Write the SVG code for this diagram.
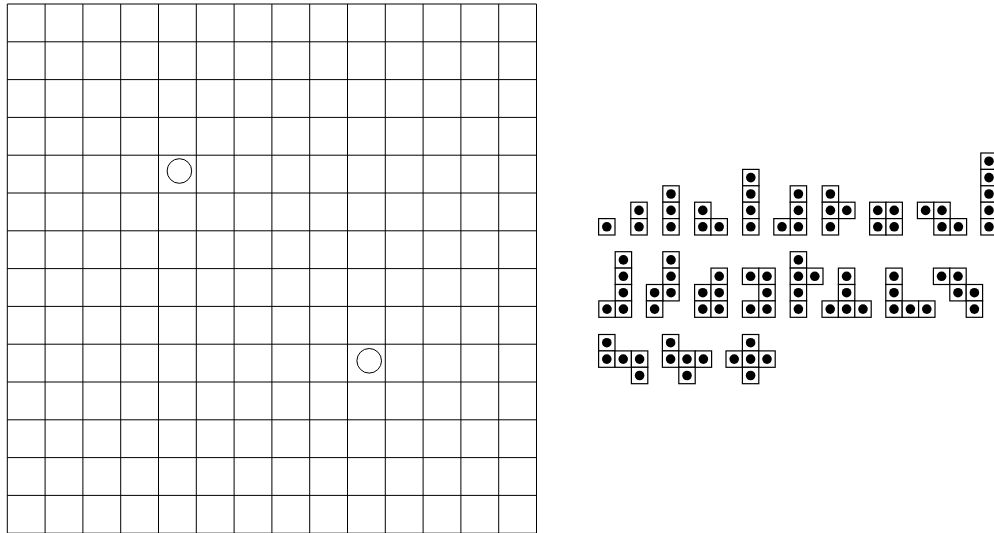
<svg xmlns="http://www.w3.org/2000/svg" xmlns:xlink="http://www.w3.org/1999/xlink" width="994" height="533" viewBox="0 0 994 533">
<style>
.g{stroke:#000;stroke-width:1;fill:none}
.ring{stroke:#000;stroke-width:1;fill:none}
.cell{fill:#fff;stroke:#000;stroke-width:1.2}
.dot{fill:#000}
</style>
<defs>
<g id="c"><rect class="cell" x="0" y="0" width="16.4" height="16.4"/><circle class="dot" cx="8.2" cy="8.2" r="4.8"/></g>
</defs>
<rect x="0" y="0" width="994" height="533" fill="#fff"/>
<g id="board">
<g class="g">
<path d="M7.3 4V533M45.1 4V533M82.9 4V533M120.7 4V533M158.5 4V533M196.3 4V533M234.1 4V533M271.9 4V533M309.7 4V533M347.5 4V533M385.3 4V533M423.1 4V533M460.9 4V533M498.7 4V533M536.5 4V533"/>
<path d="M7.3 4H536.5M7.3 41.8H536.5M7.3 79.6H536.5M7.3 117.4H536.5M7.3 155.2H536.5M7.3 193H536.5M7.3 230.8H536.5M7.3 268.6H536.5M7.3 306.4H536.5M7.3 344.2H536.5M7.3 382H536.5M7.3 419.8H536.5M7.3 457.6H536.5M7.3 495.4H536.5M7.3 533.2H536.5"/>
</g>
<circle id="ring1" class="ring" cx="179.4" cy="171" r="12.3"/>
<circle id="ring2" class="ring" cx="369.2" cy="360.8" r="12.3"/>
</g>
<g id="p1"><use xlink:href="#c" x="598.6" y="218.6"/></g>
<g id="p2"><use xlink:href="#c" x="630.8" y="202.2"/><use xlink:href="#c" x="630.8" y="218.6"/></g>
<g id="p3"><use xlink:href="#c" x="662.8" y="185.8"/><use xlink:href="#c" x="662.8" y="202.2"/><use xlink:href="#c" x="662.8" y="218.6"/></g>
<g id="p4"><use xlink:href="#c" x="694.6" y="202.2"/><use xlink:href="#c" x="694.6" y="218.6"/><use xlink:href="#c" x="711" y="218.6"/></g>
<g id="p5"><use xlink:href="#c" x="742.6" y="169.4"/><use xlink:href="#c" x="742.6" y="185.8"/><use xlink:href="#c" x="742.6" y="202.2"/><use xlink:href="#c" x="742.6" y="218.6"/></g>
<g id="p6"><use xlink:href="#c" x="790.2" y="185.8"/><use xlink:href="#c" x="790.2" y="202.2"/><use xlink:href="#c" x="790.2" y="218.6"/><use xlink:href="#c" x="773.8" y="218.6"/></g>
<g id="p7"><use xlink:href="#c" x="822.2" y="185.8"/><use xlink:href="#c" x="822.2" y="202.2"/><use xlink:href="#c" x="822.2" y="218.6"/><use xlink:href="#c" x="838.6" y="202.2"/></g>
<g id="p8"><use xlink:href="#c" x="869.6" y="202.2"/><use xlink:href="#c" x="886" y="202.2"/><use xlink:href="#c" x="869.6" y="218.6"/><use xlink:href="#c" x="886" y="218.6"/></g>
<g id="p9"><use xlink:href="#c" x="917.4" y="202.2"/><use xlink:href="#c" x="933.8" y="202.2"/><use xlink:href="#c" x="933.8" y="218.6"/><use xlink:href="#c" x="950.2" y="218.6"/></g>
<g id="p10"><use xlink:href="#c" x="980.8" y="153"/><use xlink:href="#c" x="980.8" y="169.4"/><use xlink:href="#c" x="980.8" y="185.8"/><use xlink:href="#c" x="980.8" y="202.2"/><use xlink:href="#c" x="980.8" y="218.6"/></g>
<g id="p11"><use xlink:href="#c" x="615.2" y="251.7"/><use xlink:href="#c" x="615.2" y="268.1"/><use xlink:href="#c" x="615.2" y="284.5"/><use xlink:href="#c" x="615.2" y="300.9"/><use xlink:href="#c" x="598.8" y="300.9"/></g>
<g id="p12"><use xlink:href="#c" x="662.8" y="251.7"/><use xlink:href="#c" x="662.8" y="268.1"/><use xlink:href="#c" x="662.8" y="284.5"/><use xlink:href="#c" x="646.4" y="284.5"/><use xlink:href="#c" x="646.4" y="300.9"/></g>
<g id="p13"><use xlink:href="#c" x="711" y="268.1"/><use xlink:href="#c" x="694.6" y="284.5"/><use xlink:href="#c" x="711" y="284.5"/><use xlink:href="#c" x="694.6" y="300.9"/><use xlink:href="#c" x="711" y="300.9"/></g>
<g id="p14"><use xlink:href="#c" x="742.4" y="268.1"/><use xlink:href="#c" x="758.8" y="268.1"/><use xlink:href="#c" x="758.8" y="284.5"/><use xlink:href="#c" x="742.4" y="300.9"/><use xlink:href="#c" x="758.8" y="300.9"/></g>
<g id="p15"><use xlink:href="#c" x="790.2" y="251.7"/><use xlink:href="#c" x="790.2" y="268.1"/><use xlink:href="#c" x="806.6" y="268.1"/><use xlink:href="#c" x="790.2" y="284.5"/><use xlink:href="#c" x="790.2" y="300.9"/></g>
<g id="p16"><use xlink:href="#c" x="838.4" y="268.1"/><use xlink:href="#c" x="838.4" y="284.5"/><use xlink:href="#c" x="822" y="300.9"/><use xlink:href="#c" x="838.4" y="300.9"/><use xlink:href="#c" x="854.8" y="300.9"/></g>
<g id="p17"><use xlink:href="#c" x="885.8" y="268.1"/><use xlink:href="#c" x="885.8" y="284.5"/><use xlink:href="#c" x="885.8" y="300.9"/><use xlink:href="#c" x="902.2" y="300.9"/><use xlink:href="#c" x="918.6" y="300.9"/></g>
<g id="p18"><use xlink:href="#c" x="933.4" y="268.1"/><use xlink:href="#c" x="949.8" y="268.1"/><use xlink:href="#c" x="949.8" y="284.5"/><use xlink:href="#c" x="966.2" y="284.5"/><use xlink:href="#c" x="966.2" y="300.9"/></g>
<g id="p19"><use xlink:href="#c" x="598.6" y="334.5"/><use xlink:href="#c" x="598.6" y="350.9"/><use xlink:href="#c" x="615" y="350.9"/><use xlink:href="#c" x="631.4" y="350.9"/><use xlink:href="#c" x="631.4" y="367.3"/></g>
<g id="p20"><use xlink:href="#c" x="662.4" y="334.5"/><use xlink:href="#c" x="662.4" y="350.9"/><use xlink:href="#c" x="678.8" y="350.9"/><use xlink:href="#c" x="695.2" y="350.9"/><use xlink:href="#c" x="678.8" y="367.3"/></g>
<g id="p21"><use xlink:href="#c" x="742.4" y="334.5"/><use xlink:href="#c" x="726" y="350.9"/><use xlink:href="#c" x="742.4" y="350.9"/><use xlink:href="#c" x="758.8" y="350.9"/><use xlink:href="#c" x="742.4" y="367.3"/></g>
</svg>
